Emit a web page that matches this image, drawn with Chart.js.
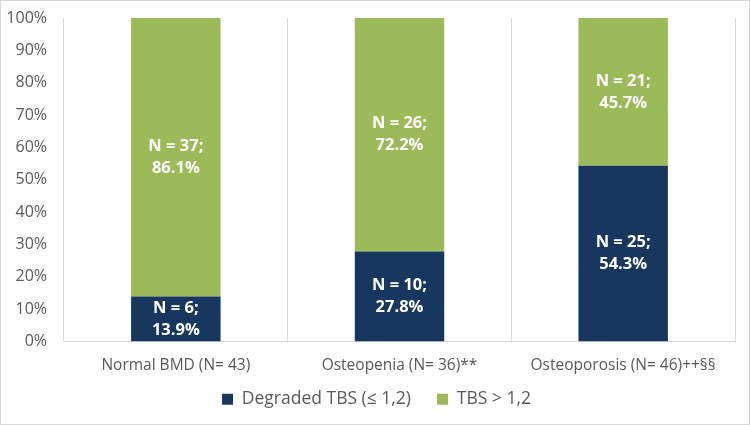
<!DOCTYPE html>
<html>
<head>
<meta charset="utf-8">
<script src="https://cdn.jsdelivr.net/npm/chart.js@4"></script>
<style>
  html, body { margin: 0; padding: 0; background: #fff; }
  #wrap { width: 748px; height: 423px; border: 1px solid #d9d9d9; }
</style>
</head>
<body>
<div id="wrap"><canvas id="tbsChart"></canvas></div>
<script>
const categories = ['Normal BMD (N= 43)', 'Osteopenia (N= 36)**', 'Osteoporosis (N= 46)++§§'];
const degradedPct = [13.9, 27.8, 54.3];
const degradedN = [6, 10, 25];
const normalPct = [86.1, 72.2, 45.7];
const normalN = [37, 26, 21];
const yTicks = [0, 10, 20, 30, 40, 50, 60, 70, 80, 90, 100];

const fontName = "'Open Sans', 'Liberation Sans', sans-serif";

// writes "N = x;" and the percent in the middle of every segment
const segmentLabels = {
  id: 'segmentLabels',
  afterDatasetsDraw(chart) {
    const ctx = chart.ctx;
    ctx.save();
    ctx.fillStyle = '#ffffff';
    ctx.font = 'bold 16.5px ' + fontName;
    ctx.textAlign = 'center';
    ctx.textBaseline = 'middle';
    chart.data.datasets.forEach((ds, i) => {
      const meta = chart.getDatasetMeta(i);
      meta.data.forEach((bar, j) => {
        const mid = (bar.y + bar.base) / 2;
        ctx.fillText('N = ' + ds.counts[j] + ';', bar.x, mid - 11);
        ctx.fillText(ds.data[j].toFixed(1) + '%', bar.x, mid + 11);
      });
    });
    ctx.restore();
  }
};

// the x axis is fitted short so the legend sits close under it,
// then its box is grown back so the tick labels are not clipped
const xLabelRoom = {
  id: 'xLabelRoom',
  afterLayout(chart) {
    const x = chart.scales.x;
    x.bottom = x.top + 40;
    // legend a little to the right, like the original
    chart.legend.left += 5;
    chart.legend.right += 5;
  }
};

new Chart(document.getElementById('tbsChart'), {
  type: 'bar',
  data: {
    labels: categories,
    datasets: [
      {
        label: 'Degraded TBS (≤ 1,2)',
        data: degradedPct,
        counts: degradedN,
        backgroundColor: '#17375e'
      },
      {
        label: 'TBS > 1,2',
        data: normalPct,
        counts: normalN,
        backgroundColor: '#9bbb59'
      }
    ]
  },
  options: {
    responsive: true,
    maintainAspectRatio: false,
    animation: false,
    layout: { padding: { left: 7, right: 14, top: 17, bottom: 6 } },
    datasets: { bar: { barPercentage: 0.4, categoryPercentage: 1.0 } },
    plugins: {
      legend: {
        position: 'bottom',
        labels: {
          color: '#595959',
          font: { family: fontName, size: 17.5 },
          boxWidth: 11,
          boxHeight: 11,
          padding: 26
        }
      },
      tooltip: { enabled: false }
    },
    scales: {
      x: {
        stacked: true,
        afterFit(axis) {
          axis.height = 23;
        },
        grid: { display: true, offset: true, color: '#d9d9d9', drawTicks: false },
        border: { display: true, color: '#d9d9d9' },
        ticks: {
          color: '#595959',
          font: { family: fontName, size: 15.5 },
          padding: 15
        }
      },
      y: {
        stacked: true,
        min: 0,
        max: 100,
        afterBuildTicks(axis) {
          axis.ticks = yTicks.map(v => ({ value: v }));
        },
        afterFit(axis) {
          axis.width = 56;
          axis.paddingTop = 0;
          axis.paddingBottom = 0;
        },
        grid: { display: false, drawTicks: false },
        border: { display: false },
        ticks: {
          color: '#595959',
          font: { family: fontName, size: 16 },
          padding: 17,
          callback: v => v + '%'
        }
      }
    }
  },
  plugins: [segmentLabels, xLabelRoom]
});
</script>
</body>
</html>
